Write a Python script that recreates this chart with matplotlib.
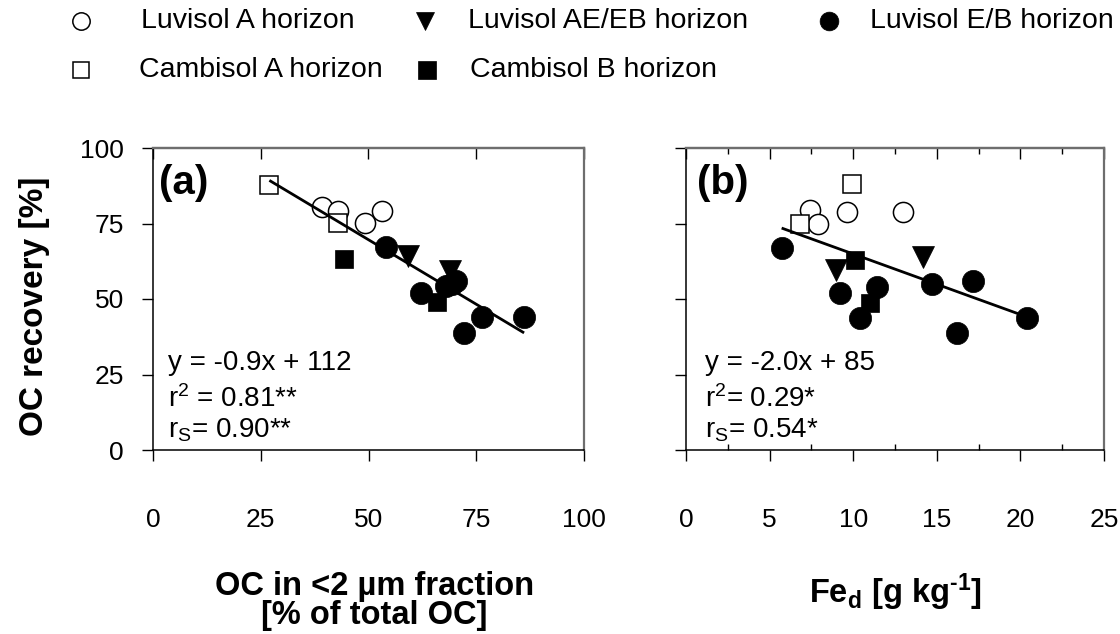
import matplotlib
matplotlib.use('Agg')
import matplotlib.pyplot as plt
import numpy as np
from matplotlib.ticker import MultipleLocator

plt.rcParams['font.family'] = ['Liberation Sans', 'DejaVu Sans']
plt.rcParams['mathtext.fontset'] = 'custom'
plt.rcParams['mathtext.rm'] = 'Liberation Sans'
plt.rcParams['mathtext.it'] = 'Liberation Sans:italic'
plt.rcParams['mathtext.bf'] = 'Liberation Sans:bold'

# ---------------- data: panel (a) OC in <2 um fraction vs OC recovery
a_luvA_x = [39.1, 43.0, 49.2, 53.1]
a_luvA_y = [80.6, 79.2, 75.1, 79.1]
a_luvAE_x = [59.2, 68.9]
a_luvAE_y = [64.2, 59.3]
a_luvEB_x = [54.1, 62.1, 68.0, 69.3, 70.3, 72.2, 76.3, 86.1]
a_luvEB_y = [67.1, 52.1, 54.2, 55.1, 56.1, 38.8, 44.1, 44.1]
a_camA_x = [27.0, 43.0]
a_camA_y = [87.7, 75.1]
a_camB_x = [44.2, 66.0]
a_camB_y = [63.1, 49.1]

# ---------------- data: panel (b) Fe_d vs OC recovery
b_luvA_x = [7.42, 7.91, 9.61, 13.0]
b_luvA_y = [79.5, 74.8, 78.9, 78.9]
b_luvAE_x = [8.97, 14.19]
b_luvAE_y = [59.6, 63.8]
b_luvEB_x = [5.72, 9.21, 11.41, 10.41, 14.69, 17.18, 16.19, 20.38]
b_luvEB_y = [66.8, 51.9, 54.1, 43.8, 55.0, 56.0, 38.8, 43.8]
b_camA_x = [9.95, 6.82]
b_camA_y = [88.0, 74.7]
b_camB_x = [10.11, 11.0]
b_camB_y = [62.9, 48.6]

a_stats = ['y = -0.9x + 112', 'r$^2$ = 0.81**', 'r$_\\mathrm{S}$= 0.90**']
b_stats = ['y = -2.0x + 85', 'r$^2$= 0.29*', 'r$_\\mathrm{S}$= 0.54*']

legend_labels = ['Luvisol A horizon', 'Luvisol AE/EB horizon', 'Luvisol E/B horizon',
                 'Cambisol A horizon', 'Cambisol B horizon']

a_xticks = [0, 25, 50, 75, 100]
b_xticks = [0, 5, 10, 15, 20, 25]
yticks = [0, 25, 50, 75, 100]

# ---------------- styles
styles = {
    'luvA': dict(marker='o', ms=14.5, mfc='white', mec='black', mew=1.1),
    'luvAE': dict(marker='v', ms=15.5, mfc='black', mec='black', mew=0.5),
    'luvEB': dict(marker='o', ms=16, mfc='black', mec='black', mew=0.5),
    'camA': dict(marker='s', ms=12.5, mfc='white', mec='black', mew=1.1),
    'camB': dict(marker='s', ms=13.5, mfc='black', mec='black', mew=0.5),
}

W, H = 1120, 634
fig = plt.figure(figsize=(W / 100, H / 100), dpi=100)

def px_axes(l, r, t, b):
    return fig.add_axes([l / W, (H - b) / H, (r - l) / W, (b - t) / H])

axA = px_axes(153, 584, 148, 450)
axB = px_axes(686, 1104, 148, 450)

TICKLAB = 19
STAT = 20
LAB = 24

def draw_panel(ax, groups, xmax, xticks, minor, stats, letter, stat_x, letter_x):
    allx, ally = [], []
    for key, xs, ys in groups:
        ax.plot(xs, ys, linestyle='none', zorder=2, clip_on=False, **styles[key])
        allx += list(xs)
        ally += list(ys)
    allx = np.array(allx)
    ally = np.array(ally)
    k, d = np.polyfit(allx, ally, 1)
    xl = np.array([allx.min(), allx.max()])
    ax.plot(xl, k * xl + d, color='black', lw=2.0, zorder=3, solid_capstyle='butt')

    ax.set_xlim(0, xmax)
    ax.set_ylim(0, 100)
    ax.set_xticks(xticks)
    ax.set_yticks(yticks)
    if minor:
        ax.xaxis.set_minor_locator(MultipleLocator(minor))
    ax.tick_params(axis='x', which='major', direction='out', length=8, width=1,
                   labelsize=TICKLAB, pad=34, top=False)
    ax.tick_params(axis='x', which='minor', direction='in', length=4, width=1, top=False)
    ax.tick_params(axis='y', which='major', direction='out', length=8, width=1,
                   labelsize=TICKLAB, pad=13, right=False)
    for s in ['left', 'bottom']:
        ax.spines[s].set_color('black')
        ax.spines[s].set_linewidth(1.1)
    for s in ['top', 'right']:
        ax.spines[s].set_color('#6e6e6e')
        ax.spines[s].set_linewidth(1.6)
    sec = ax.secondary_xaxis('top')
    sec.set_xticks(xticks)
    if minor:
        sec.xaxis.set_minor_locator(MultipleLocator(minor))
    sec.tick_params(axis='x', which='major', direction='in', length=8, width=1, labeltop=False)
    sec.tick_params(axis='x', which='minor', direction='in', length=4, width=1)
    sec.spines['top'].set_color('#6e6e6e')
    sec.spines['top'].set_linewidth(1.6)

    for txt, yb in zip(stats, [0.265, 0.142, 0.043]):
        ax.text(stat_x, yb, txt, transform=ax.transAxes, fontsize=STAT,
                ha='left', va='baseline')
    ax.text(letter_x, 0.848, letter, transform=ax.transAxes, fontsize=29,
            fontweight='bold', ha='left', va='baseline')

draw_panel(axA,
           [('luvA', a_luvA_x, a_luvA_y), ('luvAE', a_luvAE_x, a_luvAE_y),
            ('luvEB', a_luvEB_x, a_luvEB_y), ('camA', a_camA_x, a_camA_y),
            ('camB', a_camB_x, a_camB_y)],
           100, a_xticks, None, a_stats, '(a)', 0.035, 0.014)
draw_panel(axB,
           [('luvA', b_luvA_x, b_luvA_y), ('luvAE', b_luvAE_x, b_luvAE_y),
            ('luvEB', b_luvEB_x, b_luvEB_y), ('camA', b_camA_x, b_camA_y),
            ('camB', b_camB_x, b_camB_y)],
           25, b_xticks, 2.5, b_stats, '(b)', 0.045, 0.026)

axB.tick_params(axis='y', labelleft=False)

axA.set_ylabel('OC recovery [%]', fontsize=LAB, fontweight='bold', va='center')
axA.yaxis.set_label_coords(-0.275, 0.477)

axA.text(0.513, (450 - 601) / 302, 'OC in <2 µm fraction\n[% of total OC]',
         transform=axA.transAxes, fontsize=23.5, fontweight='bold',
         ha='center', va='center', multialignment='center', linespacing=0.92)
axB.text(0.5, (450 - 592) / 302, 'Fe$_\\mathbf{d}$ [g kg$^{\\mathbf{\u2010 1}}$]',
         transform=axB.transAxes, fontsize=23.5, fontweight='bold',
         ha='center', va='center')

# ---------------- legend (drawn in a figure-wide overlay)
lg = fig.add_axes([0, 0, 1, 1])
lg.set_xlim(0, W)
lg.set_ylim(H, 0)
lg.axis('off')
leg_keys = ['luvA', 'luvAE', 'luvEB', 'camA', 'camB']
leg_marker_x = [81, 425, 829, 81, 427]
leg_text_x = [141, 468, 870, 139, 470]
leg_y = [21, 21, 21, 70, 70]
leg_ms = {'luvA': 12.5, 'luvAE': 13.5, 'luvEB': 13.5, 'camA': 11.5, 'camB': 12.5}
for key, mx, tx, yy, lab in zip(leg_keys, leg_marker_x, leg_text_x, leg_y, legend_labels):
    st = dict(styles[key])
    st['ms'] = leg_ms[key]
    lg.plot([mx], [yy], linestyle='none', **st)
    lg.text(tx, yy, lab, fontsize=20.5, ha='left', va='center')

fig.savefig('out.png', dpi=100)
